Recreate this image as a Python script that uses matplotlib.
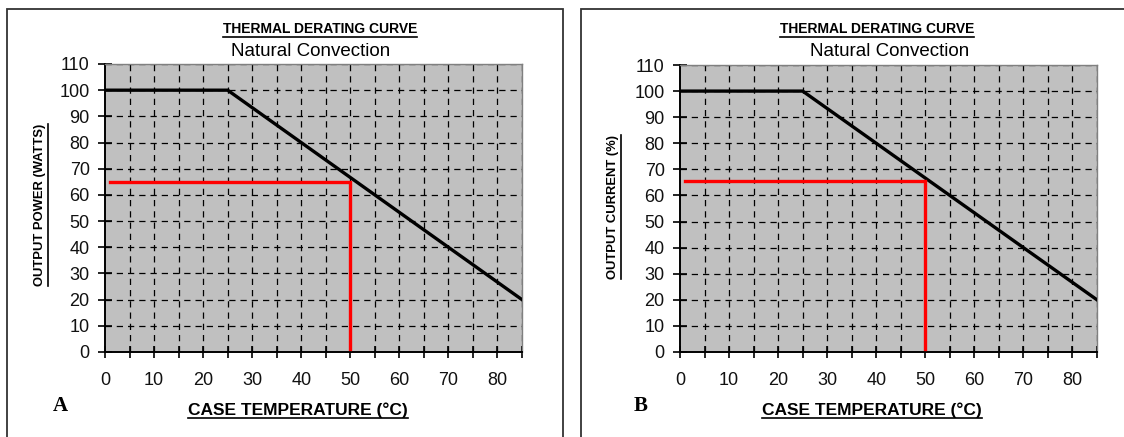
import matplotlib
matplotlib.use("Agg")
import matplotlib.pyplot as plt
from matplotlib.lines import Line2D
from matplotlib.patches import Rectangle

# derating curve (same for both panels)
case_temp = [0, 25, 85]
output_a = [100, 100, 20]
output_b = [100, 100, 20]

# red operating-point marker
red_temp_a = [1, 50, 50]
red_out_a = [65, 65, 1]
red_temp_b = [1, 50, 50]
red_out_b = [65.5, 65.5, 1]

x_ticks = [0, 10, 20, 30, 40, 50, 60, 70, 80]
y_ticks = [0, 10, 20, 30, 40, 50, 60, 70, 80, 90, 100, 110]

panels = [
    dict(letter="A", ylabel="OUTPUT POWER (WATTS)", y=output_a,
         rx=red_temp_a, ry=red_out_a, box=(105, 64, 522, 352),
         frame=(7, 9, 563, 460), t1x=320, t2x=311, ylx=40, yly=205,
         xlx=298, lx=60, ly=406),
    dict(letter="B", ylabel="OUTPUT CURRENT (%)", y=output_b,
         rx=red_temp_b, ry=red_out_b, box=(680, 65, 1097, 352),
         frame=(581, 9, 1140, 460), t1x=877, t2x=890, ylx=613, yly=207,
         xlx=872, lx=641, ly=406),
]

W, H = 1124, 437
fig = plt.figure(figsize=(W / 100, H / 100), dpi=100)
fig.patch.set_facecolor("white")

def fx(x):
    return x / W

def fy(y):
    return 1 - y / H

underlined = []

for p in panels:
    x0, y0, x1, y1 = p["frame"]
    fig.add_artist(Rectangle((fx(x0), fy(y1)), fx(x1 - x0), (y1 - y0) / H,
                             transform=fig.transFigure, fill=False,
                             edgecolor="#333333", lw=1.3))

    l, t, r, b = p["box"]
    ax = fig.add_axes([fx(l), fy(b), fx(r - l), (b - t) / H])
    ax.set_facecolor("#c0c0c0")
    ax.set_xlim(0, 85)
    ax.set_ylim(0, 110)

    # dashed grid: every 5 degrees, every 10 units
    for gx in range(5, 86, 5):
        ax.axvline(gx, color="black", lw=0.9, ls=(0, (5, 4)), zorder=1)
    for gy in range(10, 111, 10):
        ax.axhline(gy, color="black", lw=0.9, ls=(0, (5, 4)), zorder=1)

    ax.plot(case_temp, p["y"], color="black", lw=2.4, zorder=3,
            solid_joinstyle="miter")
    ax.plot(p["rx"], p["ry"], color="#ff0000", lw=2.4, zorder=4,
            solid_joinstyle="miter")

    ax.set_xticks(x_ticks)
    ax.set_xticks(range(5, 86, 10), minor=True)
    ax.set_yticks(y_ticks)
    ax.tick_params(axis="x", which="both", direction="inout", length=9,
                   width=1.2, pad=10, labelsize=13)
    ax.tick_params(axis="y", direction="inout", length=10, width=1.2,
                   pad=6, labelsize=13)
    for lab in ax.get_xticklabels() + ax.get_yticklabels():
        lab.set_fontfamily("Liberation Sans")
        lab.set_color("#111111")

    for s in ["left", "bottom"]:
        ax.spines[s].set_color("black")
        ax.spines[s].set_linewidth(1.4)
    for s in ["top", "right"]:
        ax.spines[s].set_color("#808080")
        ax.spines[s].set_linewidth(1.0)

    t1 = fig.text(fx(p["t1x"]), fy(29), "THERMAL DERATING CURVE",
                  ha="center", va="center", fontsize=10, fontweight="bold",
                  family="Liberation Sans")
    fig.text(fx(p["t2x"]), fy(52), "Natural Convection", ha="center",
             va="center", fontsize=13.5, family="Liberation Sans")
    t3 = fig.text(fx(p["xlx"]), fy(410), "CASE TEMPERATURE (\u00b0C)",
                  ha="center", va="center", fontsize=12.5, fontweight="bold",
                  family="Liberation Sans")
    t4 = fig.text(fx(p["ylx"]), fy(p["yly"]), p["ylabel"], ha="center",
                  va="center", rotation=90, fontsize=9.4, fontweight="bold",
                  family="Liberation Sans")
    fig.text(fx(p["lx"]), fy(p["ly"]), p["letter"], ha="center", va="center",
             fontsize=15, fontweight="bold", family="Liberation Serif")
    underlined += [(t1, False), (t3, False), (t4, True)]

# underline the bold labels
fig.canvas.draw()
rend = fig.canvas.get_renderer()
for txt, vertical in underlined:
    bb = txt.get_window_extent(rend).transformed(fig.transFigure.inverted())
    if vertical:
        xu = bb.x1 + 1.5 / W
        fig.add_artist(Line2D([xu, xu], [bb.y0, bb.y1], color="black",
                              lw=1.2, transform=fig.transFigure))
    else:
        yu = bb.y0 - 0.5 / H
        fig.add_artist(Line2D([bb.x0, bb.x1], [yu, yu], color="black",
                              lw=1.2, transform=fig.transFigure))

fig.savefig("out.png", dpi=100, facecolor="white")
